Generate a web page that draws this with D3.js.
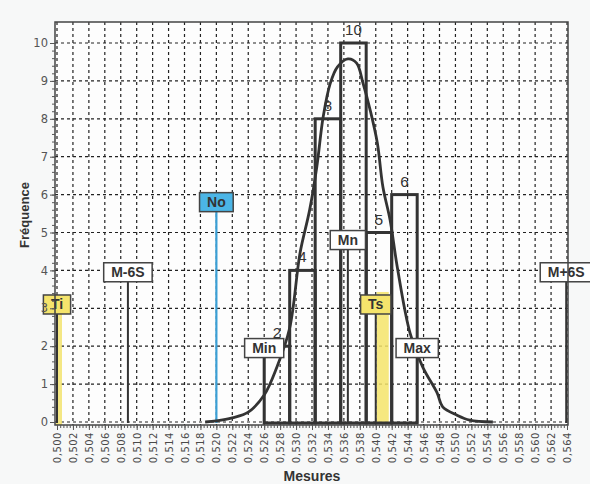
<!DOCTYPE html>
<html>
<head>
<meta charset="utf-8">
<script src="https://d3js.org/d3.v7.min.js"></script>
<style>
  body { margin: 0; background: #f7f8f8; }
  svg { display: block; }
</style>
</head>
<body>
<div id="chart"></div>
<script>
// histogram classes (edges) and counts
const binEdges = [0.526, 0.5292, 0.5324, 0.5356, 0.5388, 0.542, 0.5452];
const binCounts = [2, 4, 8, 10, 5, 6];

// reference lines
const markerNames = ["Ti", "M-6S", "No", "Min", "Mn", "Ts", "Max", "M+6S"];
const markerValues = [0.500, 0.5089, 0.520, 0.526, 0.5365, 0.540, 0.5452, 0.5639];
const markerTops = [2.85, 3.7, 5.55, 1.7, 4.55, 2.85, 1.7, 3.7];

// normal curve
const curveX = [0.5186, 0.5200, 0.5220, 0.5240, 0.5260, 0.5276, 0.5292, 0.5305, 0.5317, 0.5326,
                0.5334, 0.5343, 0.5352, 0.5365, 0.5376, 0.5384, 0.5393, 0.5402, 0.5409, 0.5418,
                0.5427, 0.5443, 0.5459, 0.5477, 0.5484, 0.5502, 0.5518, 0.5547];
const curveY = [0.0, 0.03, 0.11, 0.26, 0.71, 1.45, 2.48, 4.46, 5.59, 6.73,
                8.05, 8.94, 9.37, 9.58, 9.47, 8.94, 8.23, 7.36, 6.20, 5.33,
                4.09, 2.35, 1.45, 0.77, 0.40, 0.18, 0.05, 0.0];

const xTicks = [0.500, 0.502, 0.504, 0.506, 0.508, 0.510, 0.512, 0.514, 0.516, 0.518, 0.520,
                0.522, 0.524, 0.526, 0.528, 0.530, 0.532, 0.534, 0.536, 0.538, 0.540, 0.542,
                0.544, 0.546, 0.548, 0.550, 0.552, 0.554, 0.556, 0.558, 0.560, 0.562, 0.564];
const yTicks = [0, 1, 2, 3, 4, 5, 6, 7, 8, 9, 10];

const svgWidth = 590, svgHeight = 484;
const frame = { left: 55, right: 568, top: 22, bottom: 425 };

const svg = d3.select("#chart").append("svg")
    .attr("width", svgWidth)
    .attr("height", svgHeight)
    .style("font-family", "'Liberation Sans', Arial, sans-serif");

const x = d3.scaleLinear().domain([0.5, 0.564]).range([57, 567]);
const y = d3.scaleLinear().domain([0, 10]).range([422, 43]);

// plot background
svg.append("rect")
    .attr("x", frame.left).attr("y", frame.top)
    .attr("width", frame.right - frame.left).attr("height", frame.bottom - frame.top)
    .attr("fill", "#fdfdfd");

// dashed grid
const grid = svg.append("g").attr("stroke", "#222").attr("stroke-width", 1.2).attr("stroke-dasharray", "3,3");
grid.selectAll(".h").data(yTicks).enter().append("line")
    .attr("x1", frame.left).attr("x2", frame.right)
    .attr("y1", d => y(d)).attr("y2", d => y(d));
grid.selectAll(".v").data(xTicks).enter().append("line")
    .attr("x1", d => x(d)).attr("x2", d => x(d))
    .attr("y1", frame.top).attr("y2", frame.bottom);

// highlighter marks (Ti, Ts)
svg.append("rect")
    .attr("x", x(0.5) - 1).attr("y", y(2.85) - 12)
    .attr("width", 6).attr("height", frame.bottom - y(2.85) + 12)
    .attr("fill", "#f2e36e").attr("opacity", 0.85);
svg.append("rect")
    .attr("x", x(0.540) + 1).attr("y", y(2.85) - 22)
    .attr("width", 12).attr("height", y(0) - y(2.85) + 22)
    .attr("fill", "#f4e46a").attr("opacity", 0.85);

// histogram bars
svg.append("g").selectAll("rect").data(binCounts).enter().append("rect")
    .attr("x", (d, i) => x(binEdges[i]))
    .attr("width", (d, i) => x(binEdges[i + 1]) - x(binEdges[i]))
    .attr("y", d => y(d))
    .attr("height", d => y(0) - y(d) + 1)
    .attr("fill", "none")
    .attr("stroke", "#333")
    .attr("stroke-width", 3);

// reference lines
svg.append("g").selectAll("line").data(markerValues).enter().append("line")
    .attr("x1", d => x(d)).attr("x2", d => x(d))
    .attr("y1", (d, i) => y(markerTops[i]))
    .attr("y2", y(0) + 1)
    .attr("stroke", (d, i) => markerNames[i] === "No" ? "#3a9fd5" : "#333")
    .attr("stroke-width", (d, i) => markerNames[i] === "No" ? 2.2 : 2);

// bar counts
svg.append("g").selectAll("text").data(binCounts).enter().append("text")
    .attr("x", (d, i) => (x(binEdges[i]) + x(binEdges[i + 1])) / 2)
    .attr("y", d => y(d) - 8)
    .attr("text-anchor", "middle")
    .attr("font-size", 15)
    .attr("fill", "#333")
    .text(d => d);

// normal curve
const curvePts = curveX.map((d, i) => [d, curveY[i]]);
svg.append("path")
    .datum(curvePts)
    .attr("d", d3.line().x(d => x(d[0])).y(d => y(d[1])).curve(d3.curveCatmullRom))
    .attr("fill", "none")
    .attr("stroke", "#333")
    .attr("stroke-width", 2.8);

// marker label boxes
const boxFill = { Ti: "#f5e46c", Ts: "#f5e46c", No: "#4bb5e6" };
const labels = svg.append("g").selectAll("g").data(markerNames).enter().append("g")
    .attr("transform", (d, i) => "translate(" + x(markerValues[i]) + "," + y(markerTops[i]) + ")");
labels.append("rect")
    .attr("y", -19).attr("height", 19)
    .attr("fill", d => boxFill[d] || "#fff")
    .attr("stroke", "#444").attr("stroke-width", 1.5);
labels.append("text")
    .attr("y", -4.5)
    .attr("text-anchor", "middle")
    .attr("font-size", 14).attr("font-weight", "bold")
    .attr("fill", "#333")
    .text(d => d);
labels.each(function() {
    const w = d3.select(this).select("text").node().getComputedTextLength() + 15;
    d3.select(this).select("rect").attr("x", -w / 2).attr("width", w);
});

// frame
svg.append("rect")
    .attr("x", frame.left).attr("y", frame.top)
    .attr("width", frame.right - frame.left).attr("height", frame.bottom - frame.top)
    .attr("fill", "none").attr("stroke", "#444").attr("stroke-width", 1.5);

// y axis
const yAxis = svg.append("g")
    .attr("transform", "translate(" + frame.left + ",0)")
    .call(d3.axisLeft(y).tickValues(yTicks).tickSize(5).tickPadding(2));
yAxis.select(".domain").remove();
yAxis.selectAll("line").attr("stroke", "#555");
yAxis.selectAll("text").attr("font-family", "'DejaVu Sans', sans-serif").attr("font-size", 11.5).attr("fill", "#555");
const yMinor = svg.append("g")
    .attr("transform", "translate(" + frame.left + ",0)")
    .call(d3.axisLeft(y).tickValues(d3.range(0, 10.01, 0.2)).tickSize(3).tickFormat(""));
yMinor.select(".domain").remove();
yMinor.selectAll("line").attr("stroke", "#555");

// x axis
const xAxis = svg.append("g")
    .attr("transform", "translate(0," + frame.bottom + ")")
    .call(d3.axisBottom(x).tickValues(xTicks).tickSize(5)
        .tickFormat(d => d3.format(".3f")(d).replace(".", ",")));
xAxis.select(".domain").remove();
xAxis.selectAll("line").attr("stroke", "#555");
xAxis.selectAll("text")
    .attr("transform", "rotate(-90)")
    .attr("x", -7).attr("y", 0).attr("dy", "0.35em")
    .style("text-anchor", "end")
    .attr("font-family", "'DejaVu Sans', sans-serif")
    .attr("font-size", 10)
    .attr("letter-spacing", 0.5)
    .attr("fill", "#4a4a4a");
const xMinor = svg.append("g")
    .attr("transform", "translate(0," + frame.bottom + ")")
    .call(d3.axisBottom(x).tickValues(d3.range(0.5, 0.5641, 0.0004)).tickSize(3).tickFormat(""));
xMinor.select(".domain").remove();
xMinor.selectAll("line").attr("stroke", "#555");

// axis titles
svg.append("text")
    .attr("transform", "translate(29,215) rotate(-90)")
    .attr("text-anchor", "middle")
    .attr("font-size", 13).attr("font-weight", "bold")
    .attr("fill", "#333")
    .text("Fréquence");
svg.append("text")
    .attr("x", 312).attr("y", 481)
    .attr("text-anchor", "middle")
    .attr("font-size", 14).attr("font-weight", "bold")
    .attr("fill", "#333")
    .text("Mesures");
</script>
</body>
</html>
